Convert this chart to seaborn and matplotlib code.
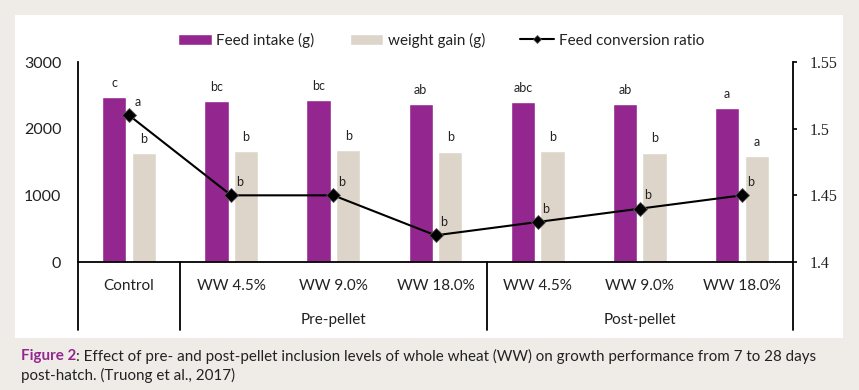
import matplotlib
matplotlib.use('Agg')

import matplotlib.pyplot as plt
import matplotlib.transforms as mtransforms
from matplotlib.patches import Rectangle
import numpy as np
import pandas as pd
import seaborn as sns

# data
keys = ['Control', 'Pre 4.5', 'Pre 9.0', 'Pre 18.0', 'Post 4.5', 'Post 9.0', 'Post 18.0']
tick_labels = ['Control', 'WW 4.5%', 'WW 9.0%', 'WW 18.0%', 'WW 4.5%', 'WW 9.0%', 'WW 18.0%']
groups = ['Pre-pellet', 'Post-pellet']
feed_intake = [2470, 2415, 2430, 2365, 2400, 2370, 2310]
weight_gain = [1635, 1665, 1675, 1655, 1665, 1640, 1590]
fcr = [1.51, 1.45, 1.45, 1.42, 1.43, 1.44, 1.45]
fi_letters = ['c', 'bc', 'bc', 'ab', 'abc', 'ab', 'a']
wg_letters = ['b', 'b', 'b', 'b', 'b', 'b', 'a']
fcr_letters = ['a', 'b', 'b', 'b', 'b', 'b', 'b']

PURPLE = '#93278F'
BEIGE = '#DDD5C9'
BG = '#EFECE7'
TXT = '#222222'

df = pd.DataFrame({
    'treatment': keys * 2,
    'value': feed_intake + weight_gain,
    'measure': ['Feed intake (g)'] * 7 + ['weight gain (g)'] * 7,
})

sns.set_style('white')
plt.rcParams['font.family'] = ['Lato', 'DejaVu Sans']

fig = plt.figure(figsize=(8.59, 3.90), dpi=100, facecolor=BG)
W, H = 859, 390
# white panel behind the chart
fig.patches.append(Rectangle((15 / W, 1 - 338 / H), 828 / W, 323 / H,
                             transform=fig.transFigure, facecolor='white',
                             edgecolor='none', zorder=-5))

ax = fig.add_axes([78 / W, 1 - 262 / H, 715 / W, 200 / H])
ax.set_facecolor('none')
sns.barplot(data=df, x='treatment', y='value', hue='measure', order=keys,
            palette=[PURPLE, BEIGE], width=0.58, gap=0.18, ax=ax, legend=True,
            saturation=1)

ax.set_ylim(0, 3000)
ax.set_yticks([0, 1000, 2000, 3000])
ax.set_xlim(-0.5, 6.5)
ax.set_xticks(range(len(keys)))
ax.set_xticklabels(tick_labels)
ax.set_xlabel('')
ax.set_ylabel('')
ax.tick_params(axis='y', length=0, pad=12, labelsize=11.5, labelcolor=TXT)
ax.tick_params(axis='x', length=0, pad=12, labelsize=11, labelcolor=TXT)
for s in ['top', 'right']:
    ax.spines[s].set_visible(False)
for s in ['left', 'bottom']:
    ax.spines[s].set_color('black')
    ax.spines[s].set_linewidth(1.3)

# significance letters above bars
ax.bar_label(ax.containers[0], labels=fi_letters, padding=6, fontsize=9, color=TXT)
ax.bar_label(ax.containers[1], labels=wg_letters, padding=6, fontsize=9, color=TXT)

# feed conversion ratio on right axis
ax2 = ax.twinx()
x_pos = np.arange(len(keys))
sns.lineplot(x=x_pos, y=fcr, ax=ax2, color='black', linewidth=1.5, marker='D',
             markersize=7, markeredgecolor='#555555', markeredgewidth=0.6,
             label='Feed conversion ratio', legend=False)
ax2.set_ylim(1.4, 1.55)
ax2.set_yticks([1.4, 1.45, 1.5, 1.55])
ax2.set_yticklabels(['1.4', '1.45', '1.5', '1.55'], family='Liberation Serif')
ax2.tick_params(axis='y', direction='out', length=3, width=1.2, pad=9,
                labelsize=11.5, labelcolor=TXT, colors='black')
ax2.set_xlim(-0.5, 6.5)
for s in ['top', 'left', 'bottom']:
    ax2.spines[s].set_visible(False)
ax2.spines['right'].set_color('black')
ax2.spines['right'].set_linewidth(1.3)
for xi, yi, lab in zip(x_pos, fcr, fcr_letters):
    ax2.annotate(lab, (xi, yi), xytext=(6, 9.5), textcoords='offset points',
                 ha='center', va='center', fontsize=9, color=TXT)

# two-level category axis: separators and group labels
tr = mtransforms.blended_transform_factory(ax.transData, ax.transAxes)
for xs in [-0.5, 0.5, 3.5, 6.5]:
    ax.plot([xs, xs], [0, -0.34], transform=tr, color='black', lw=1.3,
            clip_on=False)
for gx, g in zip([2, 5], groups):
    ax.text(gx, -0.29, g, transform=tr, ha='center', va='center',
            fontsize=11, color=TXT)

# legend on top
h1, l1 = ax.get_legend_handles_labels()
h2, l2 = ax2.get_legend_handles_labels()
ax.get_legend().remove()
fig.legend(h1 + h2, l1 + l2, loc='center', bbox_to_anchor=(441 / W, 1 - 40 / H),
           ncol=3, frameon=False, fontsize=11, handlelength=2.2,
           handleheight=0.7, handletextpad=0.3, columnspacing=2.3,
           labelcolor=TXT, markerscale=0.55)

# caption
t1 = fig.text(21 / W, 1 - 356 / H, 'Figure 2', fontsize=10.9, fontweight='bold',
              color=PURPLE, va='center')
ax.annotate(': Effect of pre- and post-pellet inclusion levels of whole wheat '
            '(WW) on growth performance from 7 to 28 days', xy=(1, 0.5),
            xycoords=t1, va='center', ha='left', fontsize=10.9, color=TXT,
            annotation_clip=False)
fig.text(21 / W, 1 - 375 / H, 'post-hatch. (Truong et al., 2017)', fontsize=10.9,
         color=TXT, va='center')

fig.savefig('out.png', dpi=100, facecolor=BG)
